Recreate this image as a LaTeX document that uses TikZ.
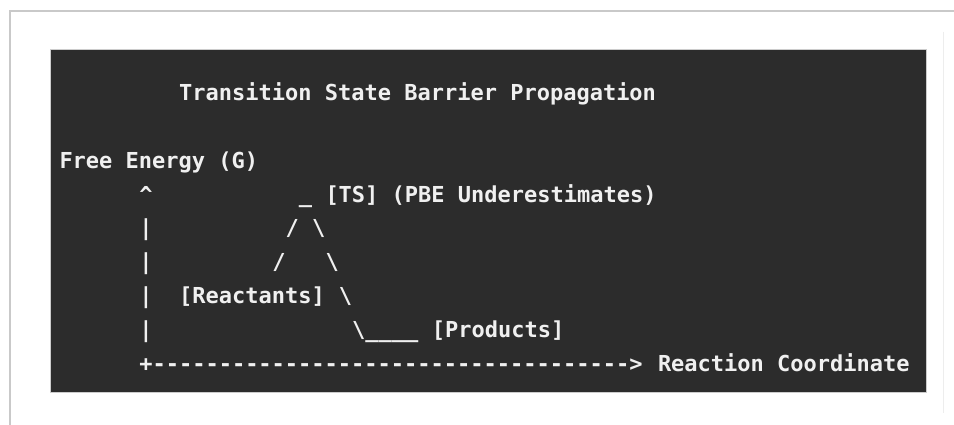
\documentclass[tikz,border=0pt]{standalone}
\usepackage{fontspec}
\newfontfamily\mono{DejaVu Sans Mono}
\definecolor{codebg}{HTML}{2C2C2C}
\definecolor{codefg}{HTML}{F0F0F0}
\definecolor{framegray}{HTML}{C9C9C9}
\definecolor{faintgray}{HTML}{EDEDED}
\definecolor{shadowgray}{HTML}{9A9A9A}
\newcommand\gx[1]{59.5+#1*13.3}
\newcommand\gy[1]{100.8+#1*33.8}
\begin{document}
\begin{tikzpicture}[x=1pt,y=-1pt,
  ascii/.style={anchor=base west, inner sep=0pt, outer sep=0pt, text=codefg,
    font=\mono\bfseries\fontsize{22}{22}\selectfont}]
\useasboundingbox (0,0) rectangle (954,425);
\fill[white] (0,0) rectangle (954,425);
% outer frame
\draw[framegray, line width=1.5pt] (10,425) -- (10,11) -- (954,11);
\draw[faintgray, line width=1pt] (943,32) -- (943,413);
% code block
\draw[shadowgray, line width=1.2pt, opacity=0.5] (51,50) rectangle (926,392);
\fill[codebg] (51,50) rectangle (926,392);
% row 0
\node[ascii] (title) at ({\gx{9}},{\gy{0}}) {Transition State Barrier Propagation};
% row 2
\node[ascii] (ylabel) at ({\gx{0}},{\gy{2}}) {Free Energy (G)};
% row 3
\node[ascii] (yarrow) at ({\gx{6}},{\gy{3}}) {\textasciicircum};
\node[ascii] (tsbar) at ({\gx{18}},{\gy{3}}) {\_};
\node[ascii] (ts) at ({\gx{20}},{\gy{3}}) {[TS] (PBE Underestimates)};
% row 4
\node[ascii] (bar4) at ({\gx{6}},{\gy{4}}) {|};
\node[ascii] (up4) at ({\gx{17}},{\gy{4}}) {/};
\node[ascii] (dn4) at ({\gx{19}},{\gy{4}}) {\textbackslash};
% row 5
\node[ascii] (bar5) at ({\gx{6}},{\gy{5}}) {|};
\node[ascii] (up5) at ({\gx{16}},{\gy{5}}) {/};
\node[ascii] (dn5) at ({\gx{20}},{\gy{5}}) {\textbackslash};
% row 6
\node[ascii] (bar6) at ({\gx{6}},{\gy{6}}) {|};
\node[ascii] (reac) at ({\gx{9}},{\gy{6}}) {[Reactants]};
\node[ascii] (dn6) at ({\gx{21}},{\gy{6}}) {\textbackslash};
% row 7
\node[ascii] (bar7) at ({\gx{6}},{\gy{7}}) {|};
\node[ascii] (dn7) at ({\gx{22}},{\gy{7}}) {\textbackslash\_\_\_\_};
\node[ascii] (prod) at ({\gx{28}},{\gy{7}}) {[Products]};
% row 8
\node[ascii] (xaxis) at ({\gx{6}},{\gy{8}}) {+-{}-{}-{}-{}-{}-{}-{}-{}-{}-{}-{}-{}-{}-{}-{}-{}-{}-{}-{}-{}-{}-{}-{}-{}-{}-{}-{}-{}-{}-{}-{}-{}-{}-{}-{}-{}>};
\node[ascii] (xlabel) at ({\gx{45}},{\gy{8}}) {Reaction Coordinate};
\end{tikzpicture}
\end{document}
